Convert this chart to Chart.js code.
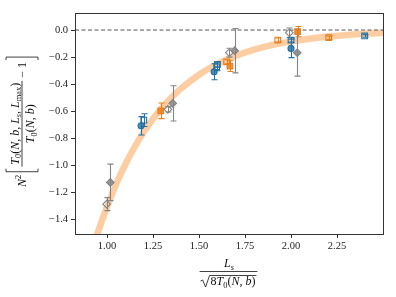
<!DOCTYPE html>
<html>
<head>
<meta charset="utf-8">
<script src="https://cdn.jsdelivr.net/npm/chart.js@4.4.0/dist/chart.umd.min.js"></script>
<style>
  html, body { margin: 0; padding: 0; background: #fff; }
  #wrap { width: 396px; height: 297px; }
</style>
</head>
<body>
<div id="wrap"><canvas id="chart" width="396" height="297"></canvas></div>
<script>
// axis ticks
const xTicks = [1.0, 1.25, 1.5, 1.75, 2.0, 2.25];
const yTicks = [0.0, -0.2, -0.4, -0.6, -0.8, -1.0, -1.2, -1.4];

// blue, filled circles
const blueFilledX = [1.185, 1.582, 2.0];
const blueFilledY = [-0.709, -0.309, -0.136];
const blueFilledErr = [0.068, 0.059, 0.068];
// blue, open squares
const blueOpenX = [1.2, 1.596, 1.60, 2.0, 2.40];
const blueOpenY = [-0.667, -0.272, -0.254, -0.074, -0.044];
const blueOpenErr = [0.047, 0.03, 0.02, 0.015, 0.01];

// orange, filled squares
const orangeFilledX = [1.292, 1.668, 2.036];
const orangeFilledY = [-0.598, -0.267, -0.012];
const orangeFilledErr = [0.058, 0.04, 0.038];
// orange, open squares
const orangeOpenX = [1.65, 1.928, 2.205];
const orangeOpenY = [-0.235, -0.074, -0.057];
const orangeOpenErr = [0.015, 0.015, 0.012];

// gray, filled diamonds
const grayFilledX = [1.018, 1.357, 1.694, 2.034];
const grayFilledY = [-1.128, -0.543, -0.153, -0.168];
const grayFilledErr = [0.135, 0.13, 0.164, 0.173];
// gray, open diamonds
const grayOpenX = [0.998, 1.331, 1.665, 1.991];
const grayOpenY = [-1.289, -0.587, -0.168, -0.02];
const grayOpenErr = [0.048, 0.02, 0.033, 0.035];

// fitted curve
const fitX = [0.9, 0.95, 1.0, 1.05, 1.1, 1.15, 1.2, 1.3, 1.4, 1.5, 1.6, 1.7, 1.8, 1.9, 2.0, 2.1, 2.2, 2.3, 2.4, 2.5];
const fitY = [-1.72, -1.50, -1.31, -1.14, -0.994, -0.866, -0.755, -0.573, -0.436, -0.331, -0.251, -0.191, -0.145, -0.110, -0.084, -0.064, -0.048, -0.037, -0.028, -0.021];

const xMin = 0.826, xMax = 2.5;
const yMin = -1.51, yMax = 0.126;

const serif = "'Liberation Serif', 'DejaVu Serif', serif";
const BLUE = '#2371a3';
const BLUE_FILL = 'rgba(35,113,163,0.8)';
const ORANGE = '#e5801f';
const ORANGE_FILL = 'rgba(229,128,31,0.85)';
const GRAY = '#858585';
const GRAY_FILL = 'rgba(133,133,133,0.85)';

const pts = (xs, ys) => xs.map((x, i) => ({ x, y: ys[i] }));

function markerSet(xs, ys, errs, color, fill, style, r) {
  return {
    data: pts(xs, ys),
    errs,
    errColor: color,
    pointStyle: style,
    pointRadius: r,
    pointBorderWidth: 1.1,
    pointBorderColor: color,
    pointBackgroundColor: fill,
    showLine: false,
    order: 0,
  };
}

// draw text made of normal / italic / sub / sup pieces, returns width
function mathRun(ctx, parts, size, x, y, draw) {
  let cx = x;
  for (const [t, k] of parts) {
    const small = k === 'sub' || k === 'subi' || k === 'sup';
    const fs = small ? size * 0.7 : size;
    const ital = k === 'i' || k === 'subi';
    ctx.font = (ital ? 'italic ' : '') + fs + 'px ' + serif;
    const dy = k === 'sup' ? -size * 0.4 : (small ? size * 0.22 : 0);
    if (draw) ctx.fillText(t, cx, y + dy);
    cx += ctx.measureText(t).width;
  }
  return cx - x;
}

const yPre = [['N', 'i'], ['2', 'sup']];
const yNum = [['T', 'i'], ['0', 'sub'], ['(', 'n'], ['N', 'i'], [', ', 'n'], ['b', 'i'], [', ', 'n'],
  ['L', 'i'], ['s', 'subi'], [', ', 'n'], ['L', 'i'], ['max', 'sub'], [')', 'n']];
const yDen = [['T', 'i'], ['0', 'sub'], ['(', 'n'], ['N', 'i'], [', ', 'n'], ['b', 'i'], [')', 'n']];
const yPost = [['\u2212 1', 'n']];
const xNum = [['L', 'i'], ['s', 'subi']];
const xDen = [['8', 'n'], ['T', 'i'], ['0', 'sub'], ['(', 'n'], ['N', 'i'], [', ', 'n'], ['b', 'i'], [')', 'n']];

function bracket(ctx, x, h, dir) {
  ctx.beginPath();
  ctx.moveTo(x + 3 * dir, -h);
  ctx.lineTo(x, -h);
  ctx.lineTo(x, h);
  ctx.lineTo(x + 3 * dir, h);
  ctx.stroke();
}

const errorBars = {
  id: 'errorBars',
  afterDatasetDraw(chart, args) {
    if (args.index !== 0) return; // right after the fitted curve
    const ctx = chart.ctx;
    const ys = chart.scales.y;
    chart.data.datasets.forEach((ds, di) => {
      if (!ds.errs) return;
      const meta = chart.getDatasetMeta(di);
      ctx.save();
      ctx.strokeStyle = ds.errColor;
      ctx.lineWidth = 1.1;
      meta.data.forEach((p, i) => {
        const v = ds.data[i].y, e = ds.errs[i];
        const x = Math.round(p.x) + 0.5;
        const top = ys.getPixelForValue(v + e);
        const bot = ys.getPixelForValue(v - e);
        ctx.beginPath();
        ctx.moveTo(x, top); ctx.lineTo(x, bot);
        ctx.moveTo(x - 3, top); ctx.lineTo(x + 3, top);
        ctx.moveTo(x - 3, bot); ctx.lineTo(x + 3, bot);
        ctx.stroke();
      });
      ctx.restore();
    });
  },
};

const labels = {
  id: 'labels',
  afterDraw(chart) {
    const ctx = chart.ctx;
    const a = chart.chartArea;
    ctx.save();
    // frame
    ctx.strokeStyle = '#333';
    ctx.lineWidth = 1;
    ctx.strokeRect(Math.round(a.left) + 0.5, Math.round(a.top) + 0.5,
      Math.round(a.right - a.left), Math.round(a.bottom - a.top));

    ctx.fillStyle = '#111';
    ctx.strokeStyle = '#111';
    ctx.lineWidth = 0.8;
    ctx.textBaseline = 'alphabetic';
    const s = 12;

    // x label
    const cx = (a.left + a.right) / 2;
    const wn = mathRun(ctx, xNum, s, 0, 0, false);
    mathRun(ctx, xNum, s, cx - wn / 2, 267, true);
    const wd = mathRun(ctx, xDen, s, 0, 0, false);
    const dx = cx + 4 - wd / 2;
    mathRun(ctx, xDen, s, dx, 285, true);
    ctx.beginPath();
    ctx.moveTo(dx - 11, 271.5); ctx.lineTo(dx + wd + 2, 271.5);
    ctx.stroke();
    // square root sign
    ctx.beginPath();
    ctx.moveTo(dx - 10, 281);
    ctx.lineTo(dx - 8, 280);
    ctx.lineTo(dx - 5, 287);
    ctx.lineTo(dx - 1, 275.5);
    ctx.lineTo(dx + wd + 1, 275.5);
    ctx.stroke();

    // y label, rotated
    ctx.translate(22, 122);
    ctx.rotate(-Math.PI / 2);
    const wPre = mathRun(ctx, yPre, s, 0, 0, false);
    const wNum = mathRun(ctx, yNum, s, 0, 0, false);
    const wDen = mathRun(ctx, yDen, s, 0, 0, false);
    const wPost = mathRun(ctx, yPost, s, 0, 0, false);
    const fw = Math.max(wNum, wDen) + 4;
    const total = wPre + 3 + 5 + fw + 3 + wPost + 5;
    let x0 = -total / 2;
    mathRun(ctx, yPre, s, x0, 4, true);
    x0 += wPre + 3;
    bracket(ctx, x0, 16, 1);
    x0 += 5;
    mathRun(ctx, yNum, s, x0 + (fw - wNum) / 2, -3.5, true);
    mathRun(ctx, yDen, s, x0 + (fw - wDen) / 2, 12, true);
    ctx.beginPath();
    ctx.moveTo(x0, 0); ctx.lineTo(x0 + fw, 0);
    ctx.stroke();
    x0 += fw + 3;
    mathRun(ctx, yPost, s, x0, 4, true);
    x0 += wPost + 2;
    bracket(ctx, x0 + 3, 16, -1);
    ctx.restore();
  },
};

const tickFont = { family: serif, size: 10.5 };

new Chart(document.getElementById('chart'), {
  type: 'scatter',
  data: {
    datasets: [
      {
        data: pts(fitX, fitY),
        showLine: true,
        borderColor: '#fecda2',
        borderWidth: 6.5,
        pointRadius: 0,
        cubicInterpolationMode: 'monotone',
        order: 10,
      },
      {
        data: [{ x: xMin, y: 0 }, { x: xMax, y: 0 }],
        showLine: true,
        borderColor: '#555',
        borderWidth: 1,
        borderDash: [4, 2.5],
        pointRadius: 0,
        order: 9,
      },
      markerSet(blueFilledX, blueFilledY, blueFilledErr, BLUE, BLUE_FILL, 'circle', 3),
      markerSet(blueOpenX, blueOpenY, blueOpenErr, BLUE, 'rgba(0,0,0,0)', 'rect', 4),
      markerSet(orangeFilledX, orangeFilledY, orangeFilledErr, ORANGE, ORANGE_FILL, 'rect', 4),
      markerSet(orangeOpenX, orangeOpenY, orangeOpenErr, ORANGE, 'rgba(0,0,0,0)', 'rect', 4),
      markerSet(grayFilledX, grayFilledY, grayFilledErr, GRAY, GRAY_FILL, 'rectRot', 3.8),
      markerSet(grayOpenX, grayOpenY, grayOpenErr, GRAY, 'rgba(0,0,0,0)', 'rectRot', 3.8),
    ],
  },
  options: {
    responsive: false,
    animation: false,
    devicePixelRatio: 1,
    layout: { padding: { left: 0, top: 13, right: 13, bottom: 0 } },
    plugins: { legend: { display: false }, tooltip: { enabled: false } },
    scales: {
      x: {
        type: 'linear',
        min: xMin,
        max: xMax,
        afterFit: (s) => { s.height = 63; },
        afterBuildTicks: (s) => { s.ticks = xTicks.map((v) => ({ value: v })); },
        ticks: { font: tickFont, color: '#222', padding: 2, maxRotation: 0, callback: (v) => v.toFixed(2) },
        grid: { drawOnChartArea: false, drawTicks: true, tickLength: 4, color: '#333' },
        border: { display: true, color: '#333' },
      },
      y: {
        type: 'linear',
        min: yMin,
        max: yMax,
        afterFit: (s) => { s.width = 75; },
        afterBuildTicks: (s) => { s.ticks = yTicks.map((v) => ({ value: v })); },
        ticks: {
          font: tickFont, color: '#222', padding: 3,
          callback: (v) => (v < 0 ? '\u2212' : '') + Math.abs(v).toFixed(1),
        },
        grid: { drawOnChartArea: false, drawTicks: true, tickLength: 4, color: '#333' },
        border: { display: true, color: '#333' },
      },
    },
  },
  plugins: [errorBars, labels],
});
</script>
</body>
</html>
